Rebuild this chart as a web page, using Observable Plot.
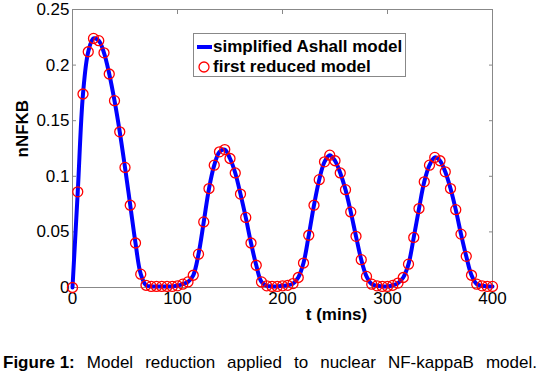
<!DOCTYPE html>
<html>
<head>
<meta charset="utf-8">
<script src="https://cdn.jsdelivr.net/npm/d3@7"></script>
<script src="https://cdn.jsdelivr.net/npm/@observablehq/plot@0.6"></script>
<style>
  html, body { margin: 0; padding: 0; background: #fff; }
  body { width: 540px; height: 373px; overflow: hidden; font-family: "Liberation Sans", Arial, sans-serif; }
  #wrap { position: relative; width: 540px; height: 330px; }
  #chart svg { display: block; }
  #legend { position: absolute; left: 193px; top: 33px; width: 213px; height: 44px; box-sizing: border-box;
            border: 1px solid #888; background: #fff; font-weight: bold; font-size: 17px; color: #000; }
  #legend .row { position: absolute; left: 0; height: 20px; line-height: 20px; white-space: nowrap; }
  #legend svg { position: absolute; left: 0; top: 0; }
  #caption { width: 534px; margin-left: 3px; margin-top: 23px; font-size: 17px; line-height: 20px;
             text-align: justify; text-align-last: justify; color: #000; white-space: nowrap; }
  #caption b { display: inline-block; }
</style>
</head>
<body>
<div id="wrap"><div id="chart"></div>
  <div id="legend">
    <svg width="30" height="44">
      <line x1="3" x2="18" y1="13" y2="13" stroke="#0000ff" stroke-width="4"></line>
      <circle cx="10" cy="33" r="5" fill="none" stroke="#ff0000" stroke-width="1.3"></circle>
    </svg>
    <div class="row" style="left:19px; top:3px;">simplified Ashall model</div>
    <div class="row" style="left:19px; top:23px;">first reduced model</div>
  </div>
</div>
<div id="caption"><b>Figure 1:</b> Model reduction applied to nuclear NF-kappaB model.</div>
<script>
const time = [0,5,10,15,20,25,30,35,40,45,50,55,60,65,70,75,80,85,90,95,100,105,110,115,120,125,130,135,140,145,150,155,160,165,170,175,180,185,190,195,200,205,210,215,220,225,230,235,240,245,250,255,260,265,270,275,280,285,290,295,300,305,310,315,320,325,330,335,340,345,350,355,360,365,370,375,380,385,390,395,400];
const ashall = [0,0.086,0.174,0.212,0.224,0.222,0.211,0.192,0.168,0.140,0.108,0.074,0.040,0.012,0.002,0.001,0.001,0.001,0.001,0.001,0.0015,0.003,0.005,0.011,0.030,0.059,0.089,0.110,0.122,0.124,0.116,0.103,0.084,0.063,0.040,0.020,0.005,0.0015,0.001,0.001,0.0015,0.002,0.0035,0.009,0.022,0.047,0.074,0.097,0.113,0.119,0.114,0.103,0.088,0.068,0.046,0.025,0.010,0.003,0.0015,0.001,0.001,0.002,0.004,0.009,0.021,0.045,0.071,0.095,0.110,0.117,0.114,0.104,0.089,0.070,0.048,0.028,0.011,0.003,0.0015,0.001,0.001];
const reduced = [0,0.086,0.174,0.212,0.224,0.222,0.211,0.192,0.168,0.140,0.108,0.074,0.040,0.012,0.002,0.001,0.001,0.001,0.001,0.001,0.0015,0.003,0.005,0.011,0.030,0.059,0.089,0.110,0.122,0.124,0.116,0.103,0.084,0.063,0.040,0.020,0.005,0.0015,0.001,0.001,0.0015,0.002,0.0035,0.009,0.022,0.047,0.074,0.097,0.113,0.119,0.114,0.103,0.088,0.068,0.046,0.025,0.010,0.003,0.0015,0.001,0.001,0.002,0.004,0.009,0.021,0.045,0.071,0.095,0.110,0.117,0.114,0.104,0.089,0.070,0.048,0.028,0.011,0.003,0.0015,0.001,0.001];
const xTicks = [0,100,200,300,400];
const yTicks = [0,0.05,0.1,0.15,0.2,0.25];
const yTickLabels = ["0","0.05","0.1","0.15","0.2","0.25"];

const lineData = time.map((t,i) => ({t, v: ashall[i]}));
const dotData = time.map((t,i) => ({t, v: reduced[i]}));
const axisColor = "#888";

const chart = Plot.plot({
  width: 540,
  height: 330,
  marginLeft: 72,
  marginRight: 48,
  marginTop: 9,
  marginBottom: 43,
  style: {fontFamily: "'Liberation Sans', Arial, sans-serif", fontSize: "17px", color: "#000", background: "#fff", overflow: "visible"},
  x: {domain: [0,400]},
  y: {domain: [0,0.25]},
  marks: [
    Plot.frame({stroke: axisColor}),
    Plot.axisX({anchor: "bottom", ticks: xTicks, tickSize: -4, tickPadding: 8, stroke: axisColor, fill: "#000", label: null}),
    Plot.axisX({anchor: "top", ticks: xTicks, tickSize: -4, stroke: axisColor, text: null, label: null}),
    Plot.axisY({anchor: "left", ticks: yTicks, tickSize: -4, tickPadding: 7, stroke: axisColor, fill: "#000",
                tickFormat: (d) => yTickLabels[yTicks.indexOf(d)], label: null}),
    Plot.axisY({anchor: "right", ticks: yTicks, tickSize: -4, stroke: axisColor, text: null, label: null}),
    Plot.line(lineData, {x: "t", y: "v", stroke: "#0000ff", strokeWidth: 4, curve: "catmull-rom"}),
    Plot.dot(dotData, {x: "t", y: "v", r: 5, stroke: "#ff0000", strokeWidth: 1.3, fill: "none"}),
    Plot.text(["t (mins)"], {frameAnchor: "bottom", dx: 54, dy: 32, lineAnchor: "bottom", fontWeight: "bold", fontSize: 17, fill: "#000"}),
    Plot.text(["nNFKB"], {frameAnchor: "left", dx: -50, dy: 9, rotate: -90, lineAnchor: "middle", fontWeight: "bold", fontSize: 17, fill: "#000"})
  ]
});
document.getElementById("chart").appendChild(chart);
</script>
</body>
</html>
